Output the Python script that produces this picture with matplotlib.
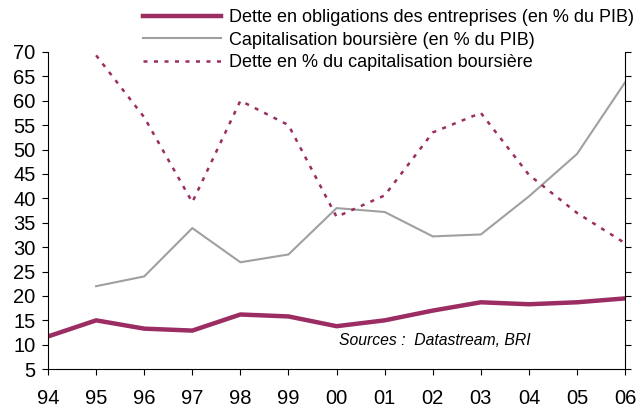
import numpy as np
import matplotlib.pyplot as plt

years = ['94', '95', '96', '97', '98', '99', '00', '01', '02', '03', '04', '05', '06']
# dette en obligations des entreprises (% PIB)
dette_oblig = [11.7, 15.0, 13.3, 12.9, 16.2, 15.8, 13.8, 15.0, 17.0, 18.7, 18.3, 18.7, 19.5]
# capitalisation boursiere (% PIB), starts in 95
capi = [np.nan, 22.0, 24.0, 33.9, 26.9, 28.5, 38.0, 37.2, 32.2, 32.6, 40.4, 49.1, 63.8]
# dette en % de la capitalisation
dette_capi = [np.nan, 69.3, 56.6, 39.2, 60.0, 55.0, 36.2, 40.6, 53.5, 57.5, 44.8, 37.0, 30.8]

col_main = '#9b2d62'
col_grey = '#a0a0a0'

plt.rcParams['font.family'] = ['Liberation Sans', 'DejaVu Sans']

fig = plt.figure(figsize=(6.37, 4.12), dpi=100)
ax = fig.add_axes([0.0754, 0.104, 0.906, 0.770])

x = np.arange(len(years))
l1, = ax.plot(x, dette_oblig, color=col_main, lw=3.2, solid_joinstyle='round')
l2, = ax.plot(x, capi, color=col_grey, lw=1.5)
l3, = ax.plot(x, dette_capi, color=col_main, lw=1.8, linestyle=(0, (1.6, 2.6)))

ax.set_xlim(0, len(years) - 1)
ax.set_ylim(5, 70)
ax.set_yticks(range(5, 71, 5))
ax.set_xticks(x)
ax.set_xticklabels(years)

ax.spines['top'].set_visible(False)
for s in ['left', 'right', 'bottom']:
    ax.spines[s].set_linewidth(0.8)
ax.tick_params(axis='y', which='both', direction='out', length=4, width=0.8,
               labelsize=14.5, right=True, pad=5)
ax.tick_params(axis='x', direction='out', length=4, width=0.8, labelsize=14.5, pad=10)

fig.legend([l1, l2, l3],
           ['Dette en obligations des entreprises (en % du PIB)',
            'Capitalisation boursière (en % du PIB)',
            'Dette en % du capitalisation boursière'],
           loc='upper left', bbox_to_anchor=(0.2135, 0.995), frameon=False,
           fontsize=13, handlelength=4.3, handletextpad=0.45, labelspacing=0.3,
           borderaxespad=0)

ax.text(0.505, 0.09, 'Sources :  Datastream, BRI', transform=ax.transAxes,
        fontsize=11.3, style='italic', ha='left', va='center')

fig.savefig('out.png', dpi=100)
